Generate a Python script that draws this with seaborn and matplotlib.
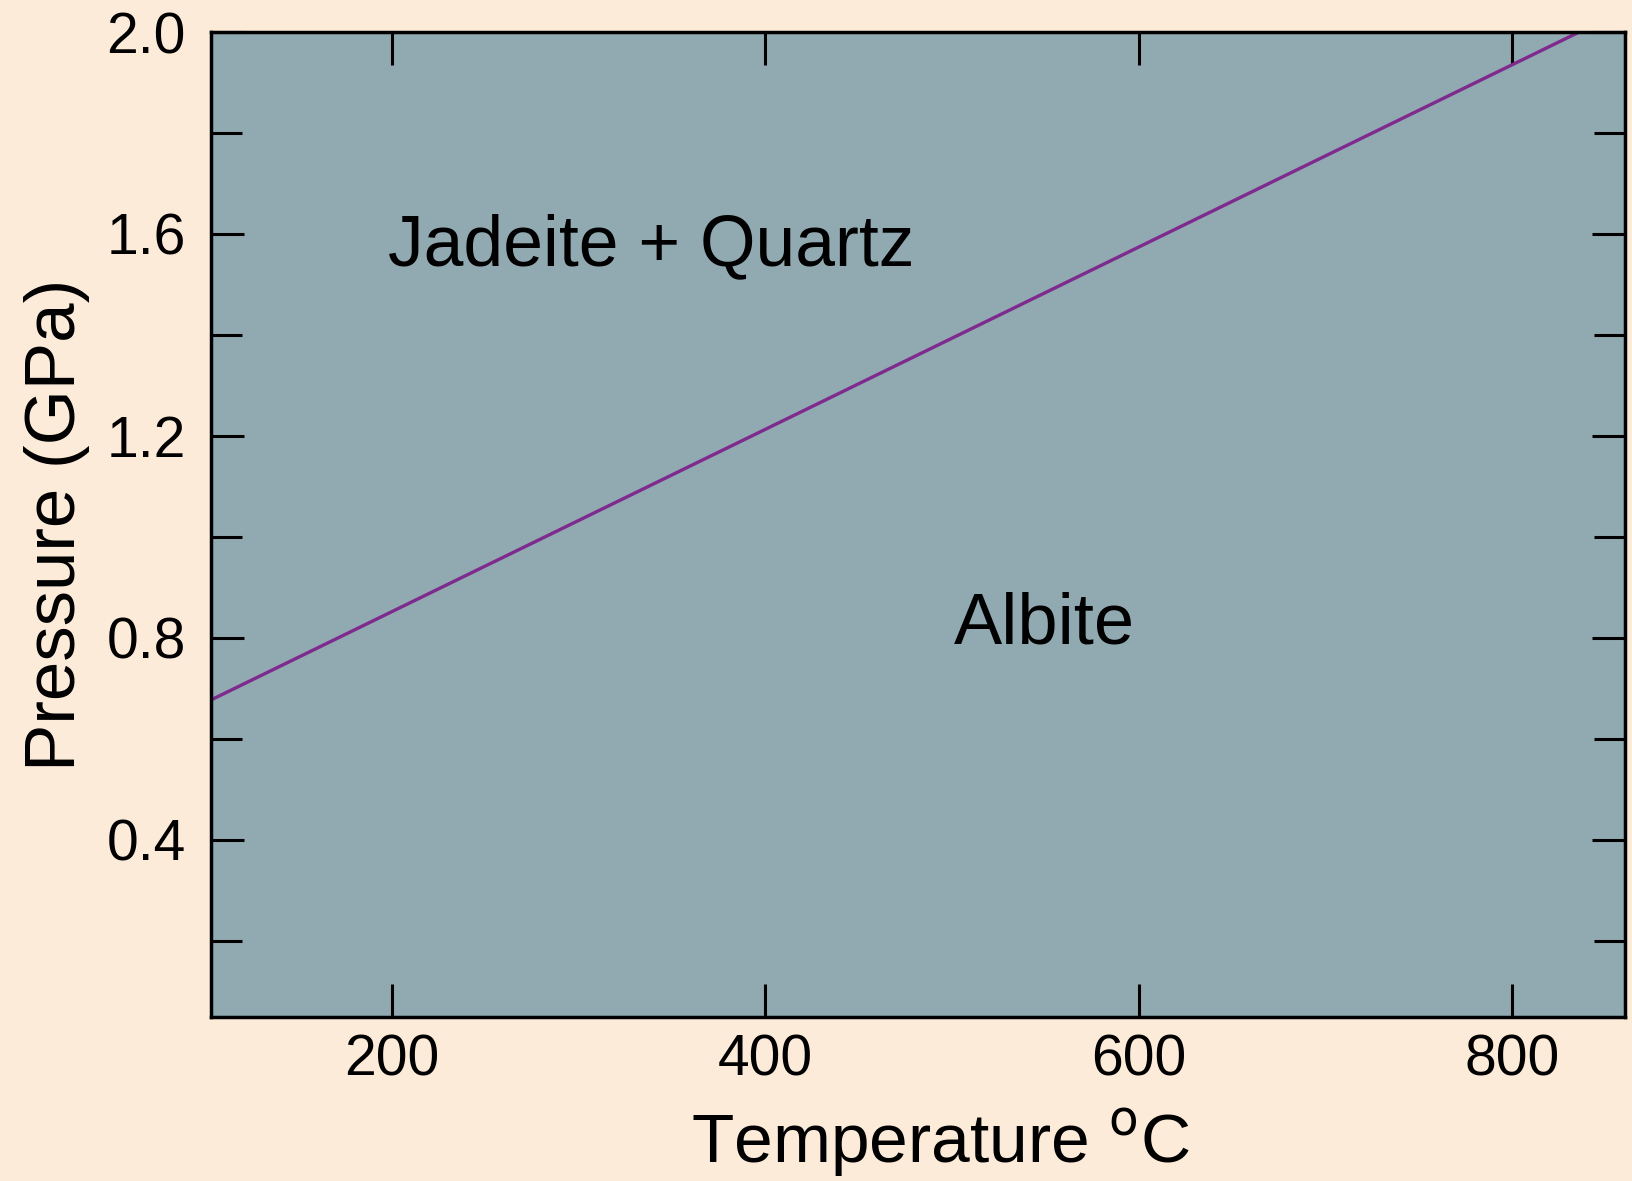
import matplotlib
matplotlib.use("Agg")
import matplotlib.pyplot as plt
import seaborn as sns
import pandas as pd
from matplotlib.ticker import MultipleLocator

# reaction boundary albite = jadeite + quartz
temperature = [103, 836]
pressure = [0.677, 2.0]

x_ticks = [200, 400, 600, 800]
y_ticks = [0.4, 0.8, 1.2, 1.6, 2.0]

field_labels = ["Jadeite + Quartz", "Albite"]
field_T = [198, 501]
field_P = [1.575, 0.825]

BG_COLOR = "#fdebda"
FIELD_COLOR = "#91a9b0"
LINE_COLOR = "#7e2a8e"

sns.set_theme(style="ticks")
plt.rcParams['font.family'] = ['Liberation Sans', 'DejaVu Sans']
plt.rcParams['text.color'] = 'black'
plt.rcParams['axes.labelcolor'] = 'black'
plt.rcParams['xtick.color'] = 'black'
plt.rcParams['ytick.color'] = 'black'

df = pd.DataFrame({"T": temperature, "P": pressure})

fig = plt.figure(figsize=(16.33, 11.81), dpi=100, facecolor=BG_COLOR)
ax = fig.add_axes([211 / 1633, 1 - 1017 / 1181, (1625 - 211) / 1633, (1017 - 32) / 1181])
ax.set_facecolor(FIELD_COLOR)

sns.lineplot(data=df, x="T", y="P", ax=ax, color=LINE_COLOR, linewidth=2.4)

ax.text(field_T[0], field_P[0], field_labels[0], fontsize=51.5, ha="left", va="center")
ax.text(field_T[1], field_P[1], field_labels[1], fontsize=52, ha="left", va="center")

ax.set_xlim(103, 860.5)
ax.set_ylim(0.049, 2.0)
ax.set_xticks(x_ticks)
ax.set_xticklabels([str(v) for v in x_ticks])
ax.set_yticks(y_ticks)
ax.set_yticklabels(["%.1f" % v for v in y_ticks])
ax.yaxis.set_minor_locator(MultipleLocator(0.2))

ax.tick_params(axis="both", which="both", direction="in", top=True, right=True,
               labelsize=41, width=2.2, color="black", labelcolor="black")
ax.tick_params(axis="x", which="major", length=24, pad=12)
ax.tick_params(axis="y", which="major", length=24, pad=18)
ax.tick_params(axis="y", which="minor", length=22)
for s in ax.spines.values():
    s.set_linewidth(2.5)
    s.set_color("black")

ax.set_xlabel("Temperature $^{\\mathrm{o}}$C", fontsize=50, labelpad=14, color="black")
ax.xaxis.label.set_x(0.516)
ax.set_ylabel("Pressure (GPa)", fontsize=51, labelpad=12, color="black")

fig.savefig("out.png", dpi=100, facecolor=BG_COLOR)
